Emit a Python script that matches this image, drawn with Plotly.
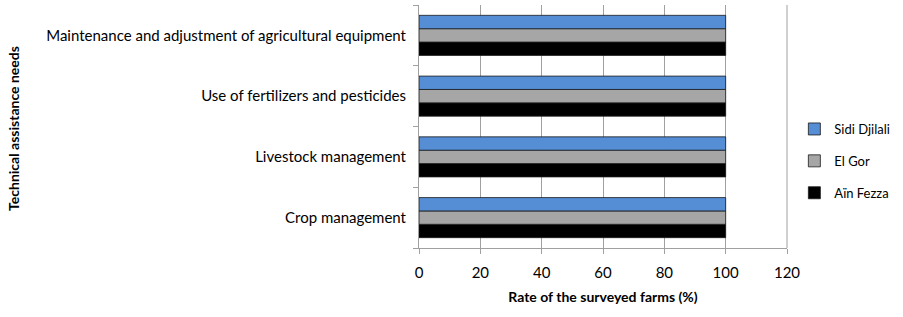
import plotly.graph_objects as go

categories = ["Crop management", "Livestock management",
              "Use of fertilizers and pesticides",
              "Maintenance and adjustment of agricultural equipment"]
sidi_djilali = [100, 100, 100, 100]
el_gor = [100, 100, 100, 100]
ain_fezza = [100, 100, 100, 100]
x_ticks = [0, 20, 40, 60, 80, 100, 120]

FONT = "Lato"
fig = go.Figure()
series = [("Aïn Fezza", ain_fezza, "#000000", 3),
          ("El Gor", el_gor, "#A6A6A6", 2),
          ("Sidi Djilali", sidi_djilali, "#558ED5", 1)]
for name, vals, col, rank in series:
    fig.add_trace(go.Bar(y=categories, x=vals, name=name, orientation="h", legendgroup=name,
                         legendrank=rank,
                         marker=dict(color=col, line=dict(color="#1a1a1a", width=0.8))))

fig.update_layout(
    width=903, height=317,
    margin=dict(l=419, r=116, t=5, b=69, autoexpand=False),
    paper_bgcolor="white", plot_bgcolor="white",
    barmode="group", bargap=0.34, bargroupgap=0,
    font=dict(family=FONT, size=15, color="black"),
    legend=dict(traceorder="grouped", x=1.02, y=0.358, yanchor="middle", xanchor="left",
                font=dict(size=13), itemwidth=30, tracegroupgap=12),
    xaxis=dict(range=[0, 120], tickvals=x_ticks, showgrid=True, gridcolor="#A0A0A0",
               gridwidth=1, showline=True, linecolor="#A0A0A0", ticks="outside",
               tickcolor="#A0A0A0", ticklen=5, zeroline=False, automargin=False,
               tickfont=dict(size=15), ticklabelstandoff=6,
               title=dict(text="<b>Rate of the surveyed farms (%)</b>", font=dict(size=14), standoff=12)),
    yaxis=dict(showline=True, linecolor="#A0A0A0", ticks="outside", tickcolor="#A0A0A0",
               ticklen=5, tickson="boundaries", showgrid=False, ticklabelstandoff=9,
               automargin=False),
)
fig.add_annotation(text="<b>Technical assistance needs</b>", textangle=-90,
                   xref="paper", yref="paper", x=(14 - 419) / 368, y=0.49,
                   showarrow=False, font=dict(size=14), xanchor="center", yanchor="middle")
fig.add_shape(type="line", xref="paper", yref="paper", x0=1, x1=1, y0=0, y1=1,
              line=dict(color="#A0A0A0", width=1))
fig.write_html("out.html", post_script="document.body.style.margin='0';",
               config={"displayModeBar": False})
